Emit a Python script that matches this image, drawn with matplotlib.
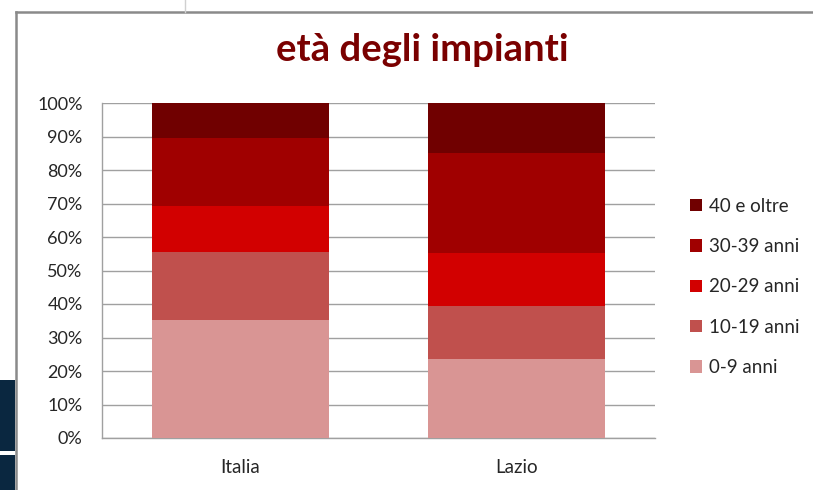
import matplotlib
matplotlib.use("Agg")
import matplotlib.pyplot as plt
from matplotlib.patches import Rectangle, Patch
from matplotlib.lines import Line2D
import numpy as np

categories = ["Italia", "Lazio"]
series_names = ["0-9 anni", "10-19 anni", "20-29 anni", "30-39 anni", "40 e oltre"]
v_0_9 = [35.2, 23.5]
v_10_19 = [20.3, 15.9]
v_20_29 = [13.7, 15.8]
v_30_39 = [20.4, 29.8]
v_40 = [10.4, 15.0]
series_values = [v_0_9, v_10_19, v_20_29, v_30_39, v_40]
colors = ["#D99594", "#C0504D", "#D20000", "#A00000", "#700000"]
yticks = [0, 10, 20, 30, 40, 50, 60, 70, 80, 90, 100]
ytick_labels = [f"{t}%" for t in yticks]

W, H = 813, 490
fig = plt.figure(figsize=(W / 100, H / 100), dpi=100)
fig.patch.set_facecolor("white")
font = "Lato"

ax = fig.add_axes([102 / W, 1 - 438 / H, (655 - 102) / W, (438 - 103) / H])
x = np.arange(len(categories))
bottom = np.zeros(len(categories))
handles = []
for name, vals, c in zip(series_names, series_values, colors):
    ax.bar(x, vals, width=0.64, bottom=bottom, color=c, zorder=3, linewidth=0)
    bottom += np.array(vals)
    handles.append(Patch(facecolor=c, edgecolor="none", label=name))

ax.set_xlim(-0.5, 1.5)
ax.set_ylim(0, 100)
ax.set_yticks(yticks)
ax.set_yticklabels(ytick_labels, fontsize=13, color="#262626", family=font)
ax.set_xticks(x)
ax.set_xticklabels(categories, fontsize=13.5, color="#262626", family=font)
ax.tick_params(axis="both", length=0)
ax.tick_params(axis="y", pad=14)
ax.tick_params(axis="x", pad=15)
ax.yaxis.grid(True, color="#A0A0A0", linewidth=1.0, zorder=0)
for s in ["top", "right"]:
    ax.spines[s].set_visible(False)
for s in ["left", "bottom"]:
    ax.spines[s].set_color("#A0A0A0")
    ax.spines[s].set_linewidth(1.0)

fig.text(422 / W, 1 - 50 / H, "età degli impianti", ha="center", va="center",
         fontsize=27.5, fontweight="bold", color="#7A0000", family=font)

leg = fig.legend(handles=handles[::-1], loc="upper left",
                 bbox_to_anchor=(682 / W, 1 - 190 / H), frameon=False,
                 handlelength=0.65, handleheight=0.65, handletextpad=0.4,
                 labelspacing=1.25, borderaxespad=0, prop={"family": font, "size": 13.5})
for t in leg.get_texts():
    t.set_color("#262626")

# frame decorations
fig.add_artist(Line2D([16 / W, 1.0], [1 - 12 / H, 1 - 12 / H], color="#8A8A8A", lw=1.8))
fig.add_artist(Line2D([16 / W, 16 / W], [0, 1 - 12 / H], color="#8A8A8A", lw=1.8))
fig.add_artist(Line2D([185 / W, 185 / W], [1 - 12 / H, 1.0], color="#D0D0D0", lw=1.0))
fig.add_artist(Rectangle((0, 1 - 451 / H), 15 / W, 71 / H, transform=fig.transFigure,
                         facecolor="#0A2740", edgecolor="none"))
fig.add_artist(Rectangle((0, 0), 15 / W, 35 / H, transform=fig.transFigure,
                         facecolor="#0A2740", edgecolor="none"))

fig.savefig("out.png", dpi=100)
